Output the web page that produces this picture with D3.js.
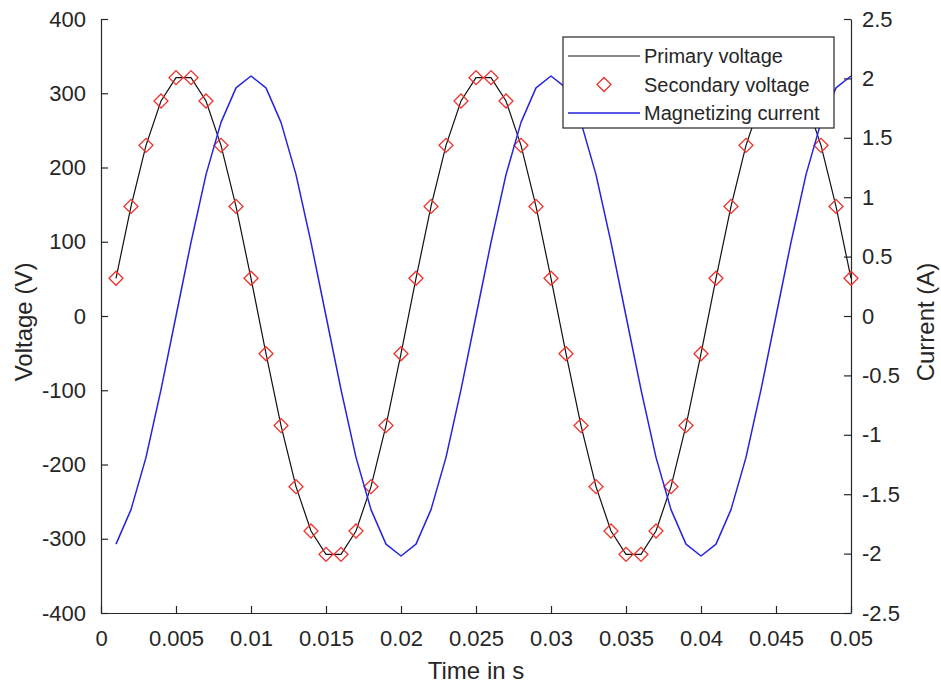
<!DOCTYPE html>
<html>
<head>
<meta charset="utf-8">
<script src="https://cdn.jsdelivr.net/npm/d3@7"></script>
<style>
  html, body { margin: 0; padding: 0; background: #fff; }
  svg { display: block; }
  text { font-family: "Liberation Sans", Arial, Helvetica, sans-serif; }
</style>
</head>
<body>
<svg id="chart" width="941" height="685"></svg>
<script>
// Sample times (s)
const time = [
  0.001, 0.002, 0.003, 0.004, 0.005, 0.006, 0.007, 0.008, 0.009, 0.010,
  0.011, 0.012, 0.013, 0.014, 0.015, 0.016, 0.017, 0.018, 0.019, 0.020,
  0.021, 0.022, 0.023, 0.024, 0.025, 0.026, 0.027, 0.028, 0.029, 0.030,
  0.031, 0.032, 0.033, 0.034, 0.035, 0.036, 0.037, 0.038, 0.039, 0.040,
  0.041, 0.042, 0.043, 0.044, 0.045, 0.046, 0.047, 0.048, 0.049, 0.050
];

// Primary voltage (V)
const primaryVoltage = [
  50.8, 147.6, 229.8, 289.6, 321.0, 321.0, 289.6, 229.8, 147.6, 50.8,
  -50.8, -147.6, -229.8, -289.6, -321.0, -321.0, -289.6, -229.8, -147.6, -50.8,
  50.8, 147.6, 229.8, 289.6, 321.0, 321.0, 289.6, 229.8, 147.6, 50.8,
  -50.8, -147.6, -229.8, -289.6, -321.0, -321.0, -289.6, -229.8, -147.6, -50.8,
  50.8, 147.6, 229.8, 289.6, 321.0, 321.0, 289.6, 229.8, 147.6, 50.8
];

// Secondary voltage (V)
const secondaryVoltage = [
  50.8, 147.6, 229.8, 289.6, 321.0, 321.0, 289.6, 229.8, 147.6, 50.8,
  -50.8, -147.6, -229.8, -289.6, -321.0, -321.0, -289.6, -229.8, -147.6, -50.8,
  50.8, 147.6, 229.8, 289.6, 321.0, 321.0, 289.6, 229.8, 147.6, 50.8,
  -50.8, -147.6, -229.8, -289.6, -321.0, -321.0, -289.6, -229.8, -147.6, -50.8,
  50.8, 147.6, 229.8, 289.6, 321.0, 321.0, 289.6, 229.8, 147.6, 50.8
];

// Magnetizing current (A)
const magnetizingCurrent = [
  -1.92, -1.63, -1.19, -0.62, 0.00, 0.62, 1.19, 1.63, 1.92, 2.02,
  1.92, 1.63, 1.19, 0.62, 0.00, -0.62, -1.19, -1.63, -1.92, -2.02,
  -1.92, -1.63, -1.19, -0.62, 0.00, 0.62, 1.19, 1.63, 1.92, 2.02,
  1.92, 1.63, 1.19, 0.62, 0.00, -0.62, -1.19, -1.63, -1.92, -2.02,
  -1.92, -1.63, -1.19, -0.62, 0.00, 0.62, 1.19, 1.63, 1.92, 2.02
];

// Axis ticks
const timeTicks = [0, 0.005, 0.01, 0.015, 0.02, 0.025, 0.03, 0.035, 0.04, 0.045, 0.05];
const voltageTicks = [-400, -300, -200, -100, 0, 100, 200, 300, 400];
const currentTicks = [-2.5, -2, -1.5, -1, -0.5, 0, 0.5, 1, 1.5, 2, 2.5];

const seriesNames = ["Primary voltage", "Secondary voltage", "Magnetizing current"];

const axisColor = "#262626";
const blue = "#2323e0";
const red = "#f0302a";

const tickFont = 22, labelFont = 24, legendFont = 20;

const plot = { left: 101, right: 851, top: 19, bottom: 613 };
const svg = d3.select("#chart");

const x = d3.scaleLinear().domain([0, 0.05]).range([plot.left, plot.right]);
const yV = d3.scaleLinear().domain([-400, 400]).range([plot.bottom, plot.top]);
const yI = d3.scaleLinear().domain([-2.5, 2.5]).range([plot.bottom, plot.top]);

const fmt = d => String(+d.toFixed(4));

// Axes
function styleAxis(g) {
  g.selectAll(".domain").attr("stroke", axisColor).attr("stroke-width", 1.2);
  g.selectAll(".tick line").attr("stroke", axisColor).attr("stroke-width", 1.2);
  g.selectAll(".tick text").attr("fill", axisColor).attr("font-size", tickFont)
    .attr("font-family", '"Liberation Sans", Arial, sans-serif');
}

svg.append("g")
  .attr("transform", `translate(0,${plot.bottom})`)
  .call(d3.axisBottom(x).tickValues(timeTicks).tickFormat(fmt).tickSize(-7).tickSizeOuter(0).tickPadding(17))
  .call(styleAxis);

svg.append("g")
  .attr("transform", `translate(${plot.left},0)`)
  .call(d3.axisLeft(yV).tickValues(voltageTicks).tickFormat(fmt).tickSize(-7).tickSizeOuter(0).tickPadding(15))
  .call(styleAxis);

svg.append("g")
  .attr("transform", `translate(${plot.right},0)`)
  .call(d3.axisRight(yI).tickValues(currentTicks).tickFormat(fmt).tickSize(-7).tickSizeOuter(0).tickPadding(11))
  .call(styleAxis);

// Axis titles
svg.append("text")
  .attr("x", (plot.left + plot.right) / 2).attr("y", 679)
  .attr("text-anchor", "middle").attr("font-size", labelFont).attr("fill", axisColor)
  .text("Time in s");

svg.append("text")
  .attr("transform", `translate(32,322) rotate(-90)`)
  .attr("text-anchor", "middle").attr("font-size", labelFont).attr("fill", axisColor)
  .text("Voltage (V)");

svg.append("text")
  .attr("transform", `translate(934,322) rotate(-90)`)
  .attr("text-anchor", "middle").attr("font-size", labelFont).attr("fill", axisColor)
  .text("Current (A)");

// Series
const idx = d3.range(time.length);

svg.append("path")
  .datum(idx)
  .attr("fill", "none").attr("stroke", "#111").attr("stroke-width", 1.2)
  .attr("d", d3.line().x(i => x(time[i])).y(i => yV(primaryVoltage[i])));

const diamond = d3.symbol().type(d3.symbolSquare).size(98)();

svg.append("g").selectAll("path")
  .data(idx)
  .join("path")
  .attr("d", diamond)
  .attr("transform", i => `translate(${x(time[i])},${yV(secondaryVoltage[i])}) rotate(45)`)
  .attr("fill", "none").attr("stroke", red).attr("stroke-width", 1.3);

svg.append("path")
  .datum(idx)
  .attr("fill", "none").attr("stroke", blue).attr("stroke-width", 1.5)
  .attr("stroke-linejoin", "round")
  .attr("d", d3.line().x(i => x(time[i])).y(i => yI(magnetizingCurrent[i])));

// Legend
const lg = svg.append("g").attr("transform", "translate(563,37)");
lg.append("rect")
  .attr("width", 271).attr("height", 91)
  .attr("fill", "#fff").attr("stroke", axisColor).attr("stroke-width", 1.2);

const rows = lg.selectAll("g.row").data(seriesNames).join("g")
  .attr("class", "row")
  .attr("transform", (d, i) => `translate(0,${19 + i * 28.5})`);

rows.append("text")
  .attr("x", 81).attr("y", 7).attr("font-size", legendFont).attr("fill", axisColor)
  .text(d => d);

rows.filter((d, i) => i === 0).append("line")
  .attr("x1", 5).attr("x2", 77).attr("stroke", "#111").attr("stroke-width", 1.2);
rows.filter((d, i) => i === 1).append("path")
  .attr("d", diamond).attr("transform", "translate(41,0) rotate(45)")
  .attr("fill", "none").attr("stroke", red).attr("stroke-width", 1.3);
rows.filter((d, i) => i === 2).append("line")
  .attr("x1", 5).attr("x2", 77).attr("stroke", blue).attr("stroke-width", 1.5);
</script>
</body>
</html>
